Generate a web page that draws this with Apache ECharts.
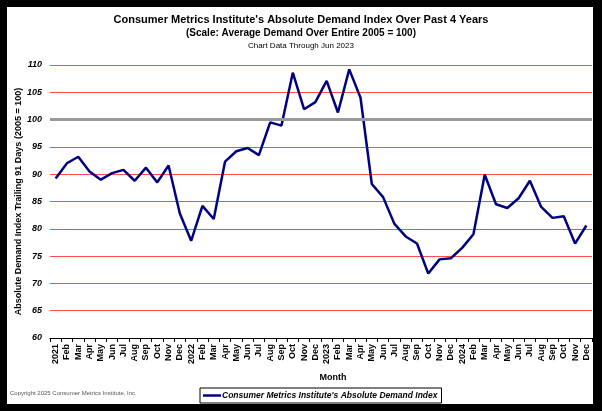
<!DOCTYPE html>
<html>
<head>
<meta charset="utf-8">
<script src="https://cdn.jsdelivr.net/npm/echarts@6/dist/echarts.min.js"></script>
<style>
  html, body { margin: 0; padding: 0; background: #000; }
  #chart { width: 602px; height: 411px; }
</style>
</head>
<body>
<div id="chart"></div>
<script>
// month labels, Jan shown as the year
var months = ['2021', 'Feb', 'Mar', 'Apr', 'May', 'Jun', 'Jul', 'Aug', 'Sep', 'Oct', 'Nov', 'Dec',
              '2022', 'Feb', 'Mar', 'Apr', 'May', 'Jun', 'Jul', 'Aug', 'Sep', 'Oct', 'Nov', 'Dec',
              '2023', 'Feb', 'Mar', 'Apr', 'May', 'Jun', 'Jul', 'Aug', 'Sep', 'Oct', 'Nov', 'Dec',
              '2024', 'Feb', 'Mar', 'Apr', 'May', 'Jun', 'Jul', 'Aug', 'Sep', 'Oct', 'Nov', 'Dec'];

var demandIndex = [89.2, 92.0, 93.2, 90.5, 89.0, 90.2, 90.8, 88.8, 91.2, 88.5, 91.6, 82.8,
                   77.8, 84.2, 81.8, 92.3, 94.2, 94.8, 93.5, 99.5, 98.9, 108.6, 101.9, 103.2,
                   107.1, 101.3, 109.2, 104.0, 88.2, 85.8, 80.9, 78.6, 77.3, 71.8, 74.4, 74.6,
                   76.5, 79.0, 89.9, 84.5, 83.8, 85.6, 88.8, 84.0, 82.0, 82.3, 77.3, 80.6];

var yTicks = [60, 65, 70, 75, 80, 85, 90, 95, 100, 105, 110];
var baseLevel = 100;

var seriesName = "Consumer Metrics Institute's Absolute Demand Index";
var font = '"Liberation Sans Narrow", "Liberation Sans", Arial, sans-serif';

var chart = echarts.init(document.getElementById('chart'));
chart.setOption({
    backgroundColor: '#000',
    animation: false,
    graphic: [
        {
            type: 'rect', z: -10,
            shape: { x: 7, y: 7, width: 586, height: 397 },
            style: { fill: '#fff' }
        },
        {
            type: 'text', left: 10, top: 390,
            style: { text: 'Copyright 2025 Consumer Metrics Institute, Inc.', fontSize: 6, fontFamily: font, fill: '#555' }
        }
    ],
    title: [
        {
            text: "Consumer Metrics Institute's Absolute Demand Index Over Past 4 Years",
            left: 'center', top: 14, padding: 0,
            textStyle: { fontSize: 11, fontWeight: 'bold', fontFamily: font, color: '#000' }
        },
        {
            text: '(Scale: Average Demand Over Entire 2005 = 100)',
            left: 'center', top: 28, padding: 0,
            textStyle: { fontSize: 10, fontWeight: 'bold', fontFamily: font, color: '#000' }
        },
        {
            text: 'Chart Data Through Jun 2023',
            left: 'center', top: 42, padding: 0,
            textStyle: { fontSize: 8, fontWeight: 'normal', fontFamily: font, color: '#000' }
        }
    ],
    legend: {
        data: [seriesName],
        left: 200, top: 388,
        padding: [3, 4, 3, 3],
        backgroundColor: '#fff',
        borderColor: '#000',
        borderWidth: 1,
        borderRadius: 0,
        icon: 'rect',
        itemWidth: 18,
        itemHeight: 2.5,
        itemGap: 0,
        textStyle: { fontSize: 8.5, fontWeight: 'bold', fontStyle: 'italic', fontFamily: font, color: '#000', padding: [0, 0, 0, -4] }
    },
    grid: { left: 50, right: 10, top: 65, bottom: 73 },
    xAxis: {
        type: 'category',
        data: months,
        boundaryGap: true,
        name: 'Month',
        nameLocation: 'middle',
        nameGap: 35,
        nameMoveOverlap: false,
        nameTextStyle: { fontSize: 9, fontWeight: 'bold', fontFamily: font, color: '#000', padding: [0, 0, 0, 24] },
        axisLine: { lineStyle: { color: '#000', width: 1 } },
        axisTick: { show: true, length: 4, interval: 0, lineStyle: { color: '#000' } },
        axisLabel: { interval: 0, rotate: 90, margin: 6, fontSize: 9, fontWeight: 'bold', fontFamily: font, color: '#000' },
        splitLine: { show: false }
    },
    yAxis: {
        type: 'value',
        min: yTicks[0],
        max: yTicks[yTicks.length - 1],
        interval: 5,
        name: 'Absolute Demand Index Trailing 91 Days (2005 = 100)',
        nameLocation: 'middle',
        nameRotate: 90,
        nameGap: 27,
        nameMoveOverlap: false,
        nameTextStyle: { fontSize: 9, fontWeight: 'bold', fontFamily: font, color: '#000' },
        axisLine: { show: false },
        axisTick: { show: false },
        axisLabel: { margin: 8, fontSize: 9, fontWeight: 'bold', fontStyle: 'italic', fontFamily: font, color: '#000' },
        splitLine: { show: true, lineStyle: { color: '#ff4d4d', width: 1 } }
    },
    series: [
        {
            name: 'base',
            type: 'line',
            data: [],
            z: 1,
            silent: true,
            markLine: {
                silent: true,
                symbol: 'none',
                label: { show: false },
                lineStyle: { color: '#999', width: 3, type: 'solid' },
                data: [{ yAxis: baseLevel }]
            }
        },
        {
            name: seriesName,
            type: 'line',
            data: demandIndex,
            z: 3,
            symbol: 'none',
            color: '#000080',
            lineStyle: { color: '#000080', width: 2.5 }
        }
    ]
});
</script>
</body>
</html>
